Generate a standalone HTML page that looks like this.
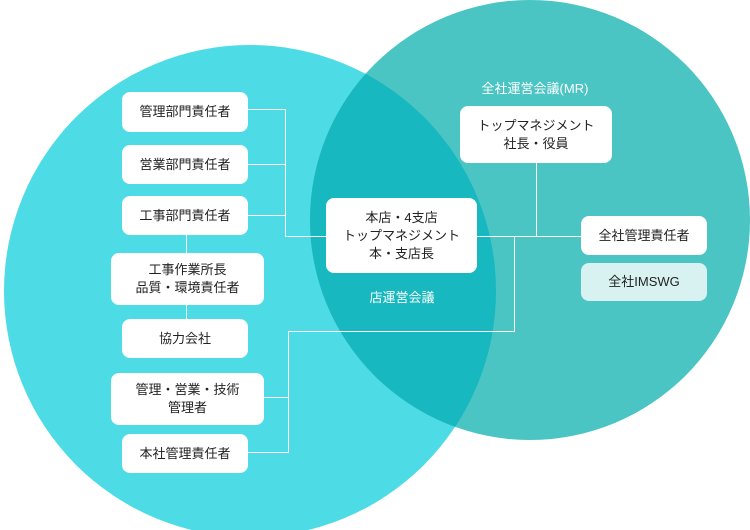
<!DOCTYPE html>
<html><head><meta charset="utf-8"><style>
body{margin:0;width:750px;height:530px;overflow:hidden;background:#fff;position:relative;font-family:"Liberation Sans","Noto Sans CJK JP",sans-serif}
.b{position:absolute;background:#fff;border-radius:8px;display:flex;align-items:center;justify-content:center;text-align:center;font-size:13px;line-height:18px;color:#222}
.t{position:absolute;color:#fff;font-size:13px;transform:translateX(-50%);white-space:nowrap}
</style></head><body>
<svg width="750" height="530" style="position:absolute;left:0;top:0">
<defs><clipPath id="c"><circle cx="530" cy="220" r="220"/></clipPath></defs>
<circle cx="250" cy="291" r="246" fill="#4ddbe5"/>
<circle cx="530" cy="220" r="220" fill="#4ac5c3"/>
<circle cx="250" cy="291" r="246" fill="#17b8bf" clip-path="url(#c)"/>
<g stroke="#fff" stroke-width="1" fill="none">
<path d="M248 109.5H285.5V236.5H326M248 164.5H285.5M248 215.5H285.5"/>
<path d="M477 236.5H581M536.5 163V236.5"/>
<path d="M186.5 234V253M186.5 305V319"/>
<path d="M514.5 236.5V331.5H288.5V452.5H248M264 397.5H288.5"/>
</g>
</svg>
<div class="t" style="left:535px;top:78px">全社運営会議(MR)</div>
<div class="t" style="left:402px;top:287px">店運営会議</div>
<div class="b" style="left:122px;top:92px;width:126px;height:40px">管理部門責任者</div>
<div class="b" style="left:122px;top:145px;width:126px;height:39px">営業部門責任者</div>
<div class="b" style="left:122px;top:196px;width:126px;height:39px">工事部門責任者</div>
<div class="b" style="left:111px;top:253px;width:153px;height:52px">工事作業所長<br>品質・環境責任者</div>
<div class="b" style="left:122px;top:319px;width:126px;height:39px">協力会社</div>
<div class="b" style="left:111px;top:373px;width:153px;height:52px">管理・営業・技術<br>管理者</div>
<div class="b" style="left:122px;top:434px;width:126px;height:39px">本社管理責任者</div>
<div class="b" style="left:326px;top:198px;width:151px;height:75px">本店・4支店<br>トップマネジメント<br>本・支店長</div>
<div class="b" style="left:460px;top:106px;width:152px;height:57px">トップマネジメント<br>社長・役員</div>
<div class="b" style="left:581px;top:216px;width:126px;height:39px">全社管理責任者</div>
<div class="b" style="left:581px;top:263px;width:126px;height:38px;background:#d8f2f2">全社IMSWG</div>
</body></html>
